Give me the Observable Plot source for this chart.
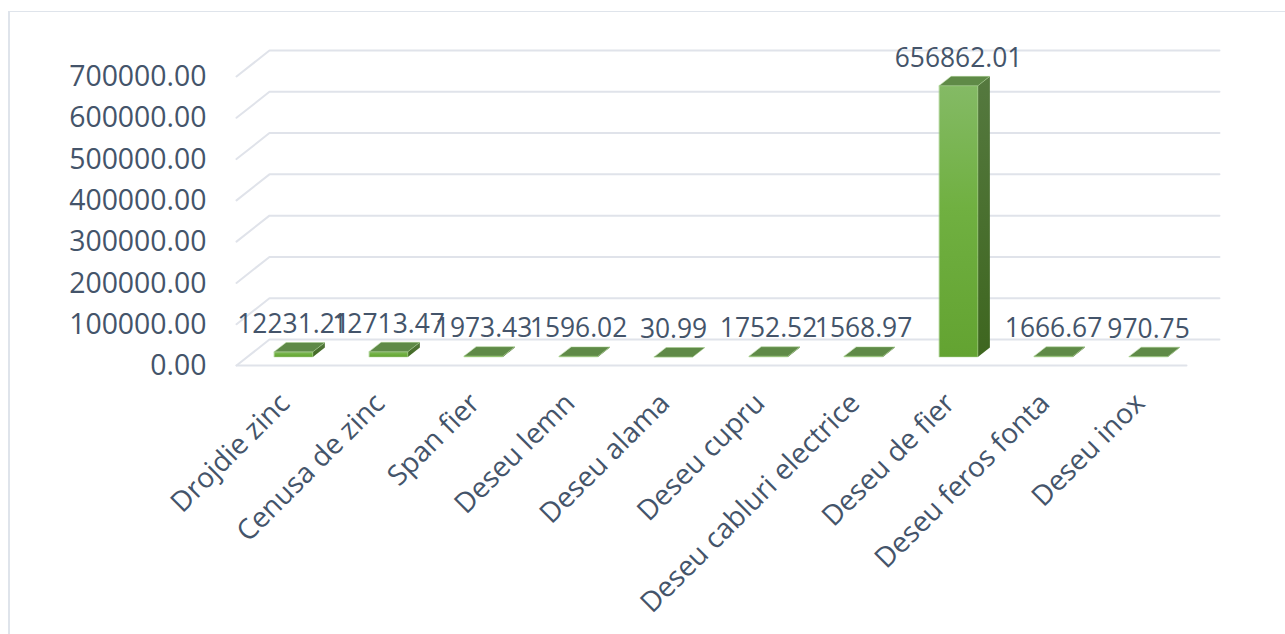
<!DOCTYPE html>
<html>
<head>
<meta charset="utf-8">
<script src="https://cdn.jsdelivr.net/npm/d3@7"></script>
<script src="https://cdn.jsdelivr.net/npm/@observablehq/plot@0.6"></script>
<style>
html,body{margin:0;padding:0;background:#fff;overflow:hidden}
#frame{position:absolute;left:8px;top:11px;width:1290px;height:640px;border:1px solid #dfe4eb;border-left-width:2px;box-sizing:border-box}
#chart{position:absolute;left:0;top:0}
</style>
</head>
<body>
<div id="frame"></div>
<div id="chart"></div>
<script>
const categories = ["Drojdie zinc","Cenusa de zinc","Span fier","Deseu lemn","Deseu alama","Deseu cupru","Deseu cabluri electrice","Deseu de fier","Deseu feros fonta","Deseu inox"];
const values = [12231.21,12713.47,1973.43,1596.02,30.99,1752.52,1568.97,656862.01,1666.67,970.75];
const yTicks = [0,100000,200000,300000,400000,500000,600000,700000];

// oblique projection of the depth axis, in data units of the x and y scales
const floorDepthX = 0.347, floorDepthY = 63000;
const barNearX = 0.29, barFarX = 0.655, barNearY = 0.33, barFarY = 0.69, halfBar = 0.203;

const idx = categories.map((_, i) => i);
const faces = [];
categories.forEach((c, i) => {
  const v = values[i];
  const nx = i + floorDepthX * barNearX, ny = floorDepthY * barNearY;
  const fx = i + floorDepthX * barFarX,  fy = floorDepthY * barFarY;
  const poly = (face, pts) => pts.forEach(([x, y]) => faces.push({c, face, x, y}));
  poly("side", [[nx + halfBar, ny],[fx + halfBar, fy],[fx + halfBar, fy + v],[nx + halfBar, ny + v]]);
  poly("front", [[nx - halfBar, ny],[nx + halfBar, ny],[nx + halfBar, ny + v],[nx - halfBar, ny + v]]);
  poly("top", [[nx - halfBar, ny + v],[nx + halfBar, ny + v],[fx + halfBar, fy + v],[fx - halfBar, fy + v]]);
});
const grid = yTicks.flatMap(t => [
  {t, x: -0.5, y: t},
  {t, x: -0.5 + floorDepthX, y: t + floorDepthY},
  {t, x: 9.5 + floorDepthX, y: t + floorDepthY}
]);
const floorFront = [{x: -0.5, y: 0},{x: 9.5, y: 0}];
const labels = categories.map((c, i) => ({
  c, v: values[i],
  x: i + floorDepthX * barNearX,
  y: floorDepthY * barFarY + values[i]
}));
const face = f => faces.filter(d => d.face === f);

const defs = () => {
  const s = d3.create("svg:defs");
  const grad = (id, stops) => {
    const g = s.append("linearGradient").attr("id", id).attr("x1", 0).attr("x2", 0).attr("y1", 0).attr("y2", 1);
    stops.forEach(([o, col]) => g.append("stop").attr("offset", o).attr("stop-color", col));
  };
  grad("frontFill", [[0,"#84ba65"],[0.45,"#70b041"],[1,"#63a331"]]);
  grad("sideFill", [[0,"#55793f"],[1,"#3e661f"]]);
  return s.node();
};

const plot = Plot.plot({
  width: 1285, height: 634,
  marginLeft: 236, marginRight: 99, marginTop: 76, marginBottom: 269,
  style: {fontFamily: "'Open Sans', sans-serif", background: "transparent", overflow: "visible"},
  x: {type: "linear", domain: [-0.5, 9.5]},
  y: {domain: [0, 700000]},
  marks: [
    defs,
    Plot.line(grid, {x: "x", y: "y", z: "t", stroke: "#e0e3ea", strokeWidth: 2}),
    Plot.line(floorFront, {x: "x", y: "y", stroke: "#e0e3ea", strokeWidth: 2}),
    Plot.line(face("side"), {x: "x", y: "y", z: "c", curve: "linear-closed", fill: "url(#sideFill)", stroke: "none"}),
    Plot.line(face("front"), {x: "x", y: "y", z: "c", curve: "linear-closed", fill: "url(#frontFill)", stroke: "#a9d18e", strokeWidth: 0.5}),
    Plot.line(face("top"), {x: "x", y: "y", z: "c", curve: "linear-closed", fill: "#5f8a47", stroke: "#a9d18e", strokeWidth: 0.5}),
    Plot.text(labels, {x: "x", y: "y", text: d => d.v.toFixed(2), dy: -18, fontSize: 26.4, fill: "#44546a"}),
    Plot.axisY({ticks: yTicks, tickFormat: d => d.toFixed(2), tickSize: 0, tickPadding: 30, dy: 0.5, fontSize: 28.4, color: "#44546a", label: null}),
    Plot.axisX({ticks: idx, tickFormat: i => categories[i], tickSize: 0, tickPadding: 33, dx: 1, tickRotate: -45, fontSize: 28.1, color: "#44546a", label: null})
  ]
});
document.getElementById("chart").append(plot);
</script>
</body>
</html>
